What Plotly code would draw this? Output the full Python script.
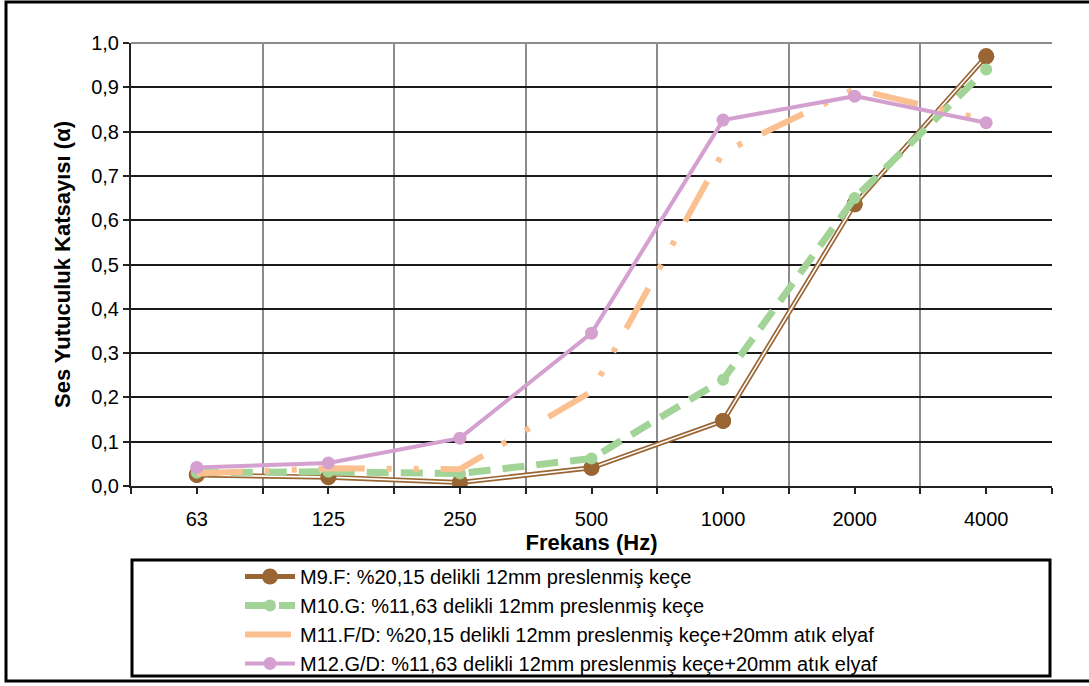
import plotly.graph_objects as go

categories = ["63", "125", "250", "500", "1000", "2000", "4000"]
m9 = [0.025, 0.020, 0.008, 0.041, 0.147, 0.636, 0.970]
m10 = [0.030, 0.032, 0.028, 0.062, 0.240, 0.650, 0.940]
m11 = [0.028, 0.040, 0.038, 0.213, 0.753, 0.896, 0.826]
m12 = [0.042, 0.052, 0.108, 0.345, 0.826, 0.880, 0.820]

names = [
    "M9.F: %20,15 delikli 12mm preslenmiş keçe",
    "M10.G: %11,63 delikli 12mm preslenmiş keçe",
    "M11.F/D: %20,15 delikli 12mm preslenmiş keçe+20mm atık elyaf",
    "M12.G/D: %11,63 delikli 12mm preslenmiş keçe+20mm atık elyaf",
]

xs = list(range(len(categories)))
BROWN = "#996633"
GREEN = "#A2D497"
ORANGE = "#FBC08F"
PINK = "#D3A0CF"
FONT = "Liberation Sans, Arial, sans-serif"

fig = go.Figure()
# M9 double line
fig.add_trace(go.Scatter(x=xs, y=m9, name=names[0], mode="lines+markers",
                         line=dict(color=BROWN, width=5),
                         marker=dict(color=BROWN, size=16, symbol="circle")))
fig.add_trace(go.Scatter(x=xs, y=m9, mode="lines", showlegend=False, hoverinfo="skip",
                         line=dict(color="white", width=1.6)))
fig.add_trace(go.Scatter(x=xs, y=m9, mode="markers", showlegend=False, hoverinfo="skip",
                         marker=dict(color=BROWN, size=16, symbol="circle")))
# M10
fig.add_trace(go.Scatter(x=xs, y=m10, name=names[1], mode="lines+markers",
                         line=dict(color=GREEN, width=7, dash="22px,12px"),
                         marker=dict(color=GREEN, size=12)))
# M11
fig.add_trace(go.Scatter(x=xs, y=m11, name=names[2], mode="lines",
                         line=dict(color=ORANGE, width=6, dash="46px,22px,5px,22px,5px,22px")))
# M12
fig.add_trace(go.Scatter(x=xs, y=m12, name=names[3], mode="lines+markers",
                         line=dict(color=PINK, width=4),
                         marker=dict(color=PINK, size=13)))

L, T, PW, PH = 131, 43, 921, 443

def px_x(p):
    return (p - L) / PW

def px_y(p):
    return (T + PH - p) / PH

shapes = [
    # outer frame
    dict(type="rect", xref="paper", yref="paper", x0=px_x(6), x1=px_x(1095), y0=px_y(681), y1=px_y(2),
         line=dict(color="black", width=3), layer="above"),
    # legend box
    dict(type="rect", xref="paper", yref="paper", x0=px_x(132), x1=px_x(1050), y0=px_y(676), y1=px_y(560),
         line=dict(color="black", width=3), layer="above"),
    # top border of plot area
    dict(type="line", xref="paper", yref="paper", x0=0, x1=1, y0=1, y1=1,
         line=dict(color="#8c8c8c", width=2), layer="above"),
]

fig.update_layout(
    width=1089, height=686,
    margin=dict(l=L, r=1089 - L - PW, t=T, b=686 - T - PH, autoexpand=False),
    paper_bgcolor="white", plot_bgcolor="white",
    separators=",.",
    font=dict(family=FONT, size=20, color="black"),
    showlegend=True,
    legend=dict(x=px_x(240), y=px_y(557), xanchor="left", yanchor="top",
                bgcolor="rgba(0,0,0,0)", borderwidth=0, tracegroupgap=0,
                itemwidth=50,
                font=dict(family=FONT, size=20, color="black")),
    shapes=shapes,
)
fig.update_xaxes(
    range=[-0.5, len(categories) - 0.5],
    tickvals=xs, ticktext=categories,
    showgrid=False, zeroline=False,
    showline=True, linecolor="#222222", linewidth=2,
    ticks="outside", ticklen=6, tickwidth=1.5, tickcolor="#222222",
    ticklabelstandoff=8,
    tickfont=dict(family=FONT, size=20),
    minor=dict(tickvals=[i - 0.5 for i in range(len(categories) + 1)], showgrid=True,
               gridcolor="#8c8c8c", gridwidth=1.5, ticks="outside", ticklen=6, tickcolor="#222222"),
    title=dict(text="<b>Frekans (Hz)</b>", font=dict(family=FONT, size=22), standoff=4),
)
fig.update_yaxes(
    range=[0, 1.0], dtick=0.1, tickformat=".1f",
    showgrid=True, gridcolor="#1a1a1a", gridwidth=1.5,
    zeroline=False,
    showline=True, linecolor="#222222", linewidth=2,
    ticks="outside", ticklen=6, tickwidth=1.5, tickcolor="#222222",
    tickfont=dict(family=FONT, size=20),
    title=dict(text="<b>Ses Yutuculuk Katsayısı (α)</b>", font=dict(family=FONT, size=22), standoff=14),
)

fig.write_html("out.html")
